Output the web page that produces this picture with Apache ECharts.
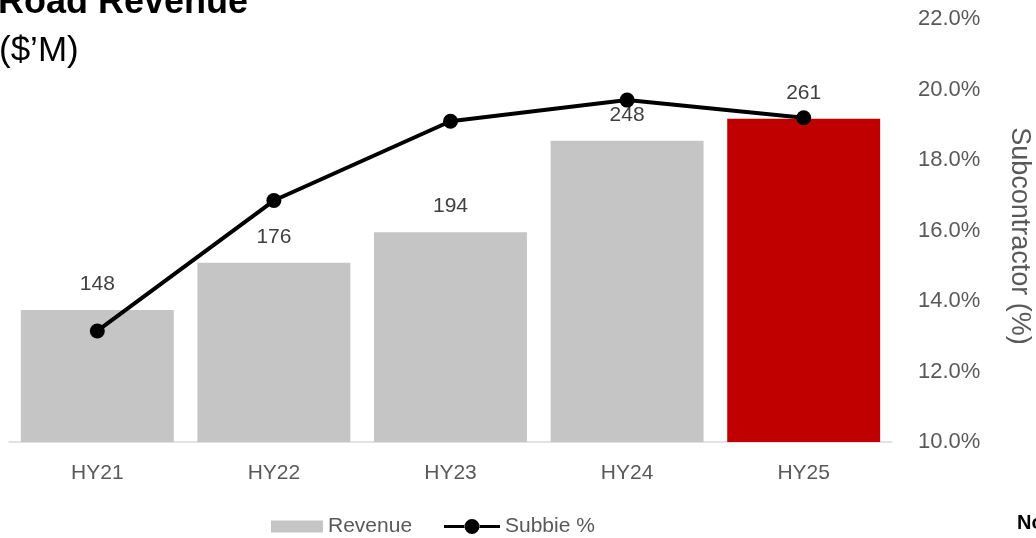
<!DOCTYPE html>
<html>
<head>
<meta charset="utf-8">
<script src="https://cdn.jsdelivr.net/npm/echarts@6/dist/echarts.min.js"></script>
<style>
html,body{margin:0;padding:0;background:#fff;}
#chart{width:1036px;height:538px;}
</style>
</head>
<body>
<div id="chart"></div>
<script>
const categories = ['HY21', 'HY22', 'HY23', 'HY24', 'HY25'];
const revenue = [148, 176, 194, 248, 261];
const subbiePct = [13.15, 16.85, 19.1, 19.7, 19.2];
const barColors = ['#c5c5c5', '#c5c5c5', '#c5c5c5', '#c5c5c5', '#c00000'];
const titleLine1 = 'Road Revenue';
const titleLine2 = '($\u2019M)';
const rightAxisName = 'Subcontractor (%)';

const FONT = '"Liberation Sans", Arial, sans-serif';
const chart = echarts.init(document.getElementById('chart'), null, {renderer: 'canvas'});

const lineIcon = 'path://M0,6h21v3h-21z M35,6h21v3h-21z M20.5,7.5a7.5,7.5 0 1,0 15,0a7.5,7.5 0 1,0 -15,0z';
const legendText = {fontFamily: FONT, fontSize: 21, color: '#595959'};

chart.setOption({
  animation: false,
  backgroundColor: '#ffffff',
  grid: {left: 9, right: 144, top: 19, bottom: 96, containLabel: false},
  legend: [
    {
      left: 271, top: 516, padding: 0, itemWidth: 52, itemHeight: 12,
      textStyle: legendText,
      data: [{name: 'Revenue', icon: 'rect', itemStyle: {color: '#c5c5c5'}}]
    },
    {
      left: 444, top: 516, padding: 0, itemWidth: 56, itemHeight: 15,
      textStyle: legendText,
      data: [{name: 'Subbie %', icon: lineIcon, itemStyle: {color: '#000'}}]
    }
  ],
  graphic: [
    {type: 'text', left: -2, top: -15, style: {text: titleLine1, font: 'bold 36px ' + FONT, fill: '#000'}},
    {type: 'text', left: -1, top: 34, style: {text: titleLine2, font: '35px ' + FONT, fill: '#000'}},
    {type: 'text', x: 1019, y: 236, rotation: -Math.PI / 2,
      style: {text: rightAxisName, font: '27px ' + FONT, fill: '#595959', align: 'center', verticalAlign: 'middle'}},
    {type: 'text', x: 1017, y: 523, style: {text: 'No', font: 'bold 20px ' + FONT, fill: '#000', verticalAlign: 'middle'}}
  ],
  xAxis: {
    type: 'category',
    data: categories,
    axisLine: {show: true, lineStyle: {color: '#d9d9d9', width: 1.5}},
    axisTick: {show: false},
    axisLabel: {fontFamily: FONT, fontSize: 21, color: '#595959', margin: 21}
  },
  yAxis: [
    {type: 'value', min: 70, max: 320, show: false, splitLine: {show: false}},
    {
      type: 'value', position: 'right', min: 10, max: 22, interval: 2,
      axisLine: {show: false}, axisTick: {show: false}, splitLine: {show: false},
      axisLabel: {fontFamily: FONT, fontSize: 22, color: '#595959', margin: 26,
        formatter: v => v.toFixed(1) + '%'}
    }
  ],
  series: [
    {
      name: 'Revenue',
      type: 'bar',
      yAxisIndex: 0,
      barCategoryGap: '13.4%',
      data: revenue.map((v, i) => ({value: v, itemStyle: {color: barColors[i]}})),
      itemStyle: {color: '#c5c5c5'},
      label: {show: true, position: 'top', distance: 15, fontFamily: FONT, fontSize: 21, color: '#404040'}
    },
    {
      name: 'Subbie %',
      type: 'line',
      yAxisIndex: 1,
      data: subbiePct,
      symbol: 'circle',
      symbolSize: 15,
      itemStyle: {color: '#000'},
      lineStyle: {color: '#000', width: 4},
      z: 5
    }
  ]
});
</script>
</body>
</html>
